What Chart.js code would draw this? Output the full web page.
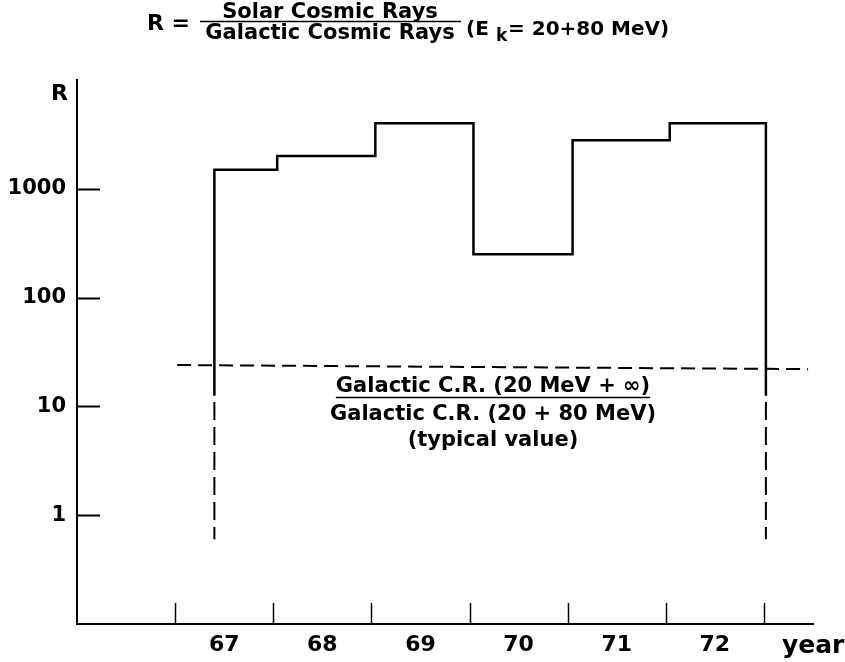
<!DOCTYPE html>
<html>
<head>
<meta charset="utf-8">
<script src="https://cdn.jsdelivr.net/npm/chart.js@4"></script>
<style>
  html, body { margin: 0; padding: 0; background: #fff; }
  #wrap { width: 845px; height: 662px; }
</style>
</head>
<body>
<div id="wrap"><canvas id="chart" width="845" height="662"></canvas></div>
<script>
// step edges (year) and the R value for each step
const stepYears = [67.4, 68.04, 69.04, 70.04, 71.05, 72.04, 73.02];
const ratioR = [1500, 2000, 4000, 250, 2800, 4000];
const solidFloor = 12.5;
const dashTop = 11;
const dashFloor = 0.6;

// galactic typical value line (dashed)
const galacticYears = [67.02, 73.45];
const galacticR = [24, 22];

// axis ticks
const yTickValues = [1, 10, 100, 1000];
const yTickLabels = ["1", "10", "100", "1000"];
const yearBounds = [67, 68, 69, 70, 71, 72, 73];
const yearCenters = [67.5, 68.5, 69.5, 70.5, 71.5, 72.5];
const yearLabels = ["67", "68", "69", "70", "71", "72"];

const FONT = "'DejaVu Sans', 'Liberation Sans', sans-serif";

//=== build the step line ===//
const stepPoints = [{ x: stepYears[0], y: solidFloor }];
for (let i = 0; i < ratioR.length; i++) {
  stepPoints.push({ x: stepYears[i], y: ratioR[i] });
}
stepPoints.push({ x: stepYears[stepYears.length - 1], y: ratioR[ratioR.length - 1] });
stepPoints.push({ x: stepYears[stepYears.length - 1], y: solidFloor });

const firstYear = stepYears[0];
const lastYear = stepYears[stepYears.length - 1];

const data = {
  datasets: [
    {
      data: stepPoints,
      borderColor: "#000",
      borderWidth: 2.5,
      stepped: true, // horizontal first, then vertical
      pointRadius: 0,
      fill: false,
    },
    {
      data: [{ x: firstYear, y: dashTop }, { x: firstYear, y: dashFloor }],
      borderColor: "#000",
      borderWidth: 2,
      borderDash: [18, 7],
      pointRadius: 0,
    },
    {
      data: [{ x: lastYear, y: dashTop }, { x: lastYear, y: dashFloor }],
      borderColor: "#000",
      borderWidth: 2,
      borderDash: [18, 7],
      pointRadius: 0,
    },
    {
      data: [
        { x: galacticYears[0], y: galacticR[0] },
        { x: galacticYears[1], y: galacticR[1] },
      ],
      borderColor: "#000",
      borderWidth: 2,
      borderDash: [14, 7],
      pointRadius: 0,
    },
  ],
};

// inward tick marks + all the loose text
const decorations = {
  id: "decorations",
  afterDraw(chart) {
    const ctx = chart.ctx;
    const xs = chart.scales.x;
    const ys = chart.scales.y;
    const area = chart.chartArea;
    ctx.save();
    ctx.strokeStyle = "#000";

    // y ticks point into the plot
    ctx.lineWidth = 2;
    for (let v of yTickValues) {
      const py = Math.round(ys.getPixelForValue(v)) + 0.5;
      ctx.beginPath();
      ctx.moveTo(area.left, py);
      ctx.lineTo(area.left + 23, py);
      ctx.stroke();
    }
    // x ticks at year boundaries, pointing up
    ctx.lineWidth = 1.5;
    for (let v of yearBounds) {
      const px = Math.round(xs.getPixelForValue(v)) + 0.5;
      ctx.beginPath();
      ctx.moveTo(px, area.bottom);
      ctx.lineTo(px, area.bottom - 21);
      ctx.stroke();
    }

    ctx.fillStyle = "#000";
    ctx.textBaseline = "alphabetic";

    // axis names
    ctx.font = "bold 22px " + FONT;
    ctx.textAlign = "right";
    ctx.fillText("R", 68, 100);
    ctx.font = "bold 25px " + FONT;
    ctx.textAlign = "left";
    ctx.fillText("year", 782, 653);

    // title: R = Solar / Galactic (E k = 20+80 MeV)
    const cx = 330;
    ctx.font = "bold 22px " + FONT;
    ctx.textAlign = "right";
    ctx.fillText("R =", 190, 30);
    ctx.font = "bold 21px " + FONT;
    ctx.textAlign = "center";
    ctx.fillText("Solar Cosmic Rays", cx, 18);
    ctx.fillText("Galactic Cosmic Rays", cx, 39);
    ctx.lineWidth = 1.5;
    ctx.beginPath();
    ctx.moveTo(200, 21.5);
    ctx.lineTo(461, 21.5);
    ctx.stroke();
    ctx.textAlign = "left";
    ctx.font = "bold 20px " + FONT;
    ctx.fillText("(E", 466, 35);
    ctx.font = "bold 17px " + FONT;
    ctx.fillText("k", 496, 41);
    ctx.font = "bold 20px " + FONT;
    ctx.fillText("= 20+80 MeV)", 508, 35);

    // note under the dashed line
    const nx = 493;
    ctx.textAlign = "center";
    ctx.font = "bold 21px " + FONT;
    const top = "Galactic C.R. (20 MeV + \u221e)";
    ctx.fillText(top, nx, 392);
    const w = ctx.measureText(top).width;
    ctx.lineWidth = 1.5;
    ctx.beginPath();
    ctx.moveTo(nx - w / 2, 397.5);
    ctx.lineTo(nx + w / 2, 397.5);
    ctx.stroke();
    ctx.fillText("Galactic C.R. (20 + 80 MeV)", nx, 420);
    ctx.fillText("(typical value)", nx, 446);

    ctx.restore();
  },
};

const chart = new Chart(document.getElementById("chart"), {
  type: "line",
  data: data,
  options: {
    responsive: false,
    animation: false,
    events: [],
    layout: { padding: { top: 80, right: 32, left: 0, bottom: 0 } },
    plugins: {
      legend: { display: false },
      tooltip: { enabled: false },
      title: { display: false },
    },
    scales: {
      x: {
        type: "linear",
        min: 66,
        max: 73.5,
        afterBuildTicks: (scale) => {
          scale.ticks = yearCenters.map((v) => ({ value: v }));
        },
        afterFit: (scale) => {
          scale.height = 38;
        },
        ticks: {
          autoSkip: false,
          maxRotation: 0,
          padding: 8,
          color: "#000",
          font: { family: FONT, size: 22, weight: "bold" },
          callback: (value) => yearLabels[yearCenters.indexOf(value)],
        },
        grid: { drawOnChartArea: false, drawTicks: false },
        border: { display: true, color: "#000", width: 2 },
      },
      y: {
        type: "logarithmic",
        min: 0.1,
        max: 10000,
        afterBuildTicks: (scale) => {
          scale.ticks = yTickValues.map((v) => ({ value: v }));
        },
        afterFit: (scale) => {
          scale.width = 77;
        },
        ticks: {
          autoSkip: false,
          padding: 11,
          color: "#000",
          font: { family: FONT, size: 21, weight: "bold" },
          callback: (value) => yTickLabels[yTickValues.indexOf(value)],
        },
        grid: { drawOnChartArea: false, drawTicks: false },
        border: { display: true, color: "#000", width: 2 },
      },
    },
  },
  plugins: [decorations],
});
</script>
</body>
</html>
